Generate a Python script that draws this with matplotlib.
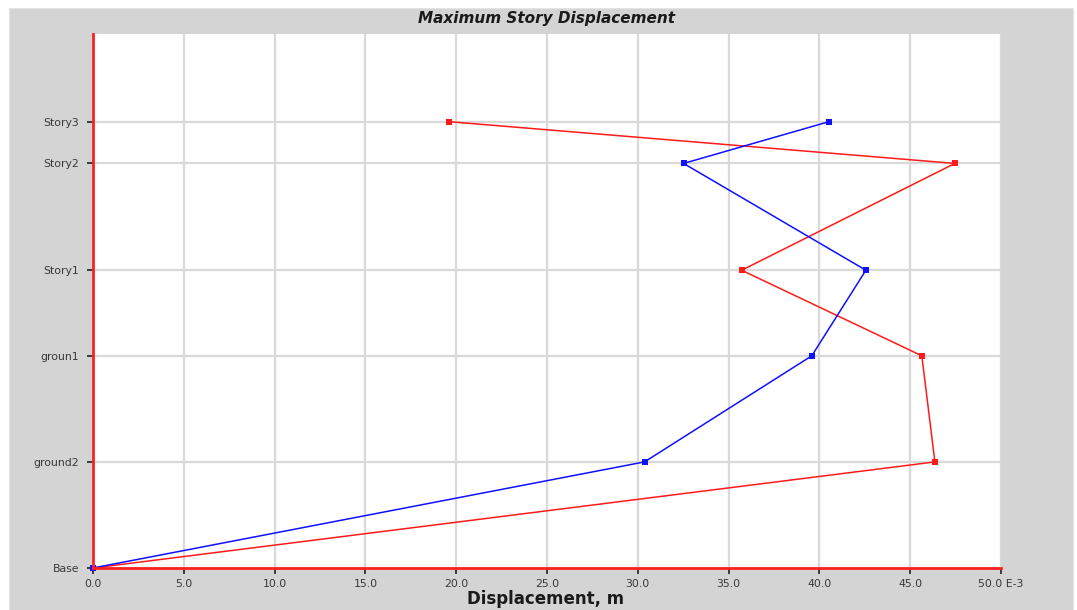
import matplotlib
matplotlib.use("Agg")
import matplotlib.pyplot as plt
from matplotlib.patches import Rectangle

plt.rcParams['font.family'] = ['DejaVu Sans']

# Story levels (elevation, m) and their names
stories = ["Base", "ground2", "groun1", "Story1", "Story2", "Story3"]
elevations = [0.0, 3.0, 6.0, 8.42, 11.44, 12.62]

# Maximum displacements (E-3 m)
disp_red = [0.0, 46.36, 45.64, 35.72, 47.46, 19.62]
disp_blue = [0.0, 30.37, 39.58, 42.56, 32.52, 40.52]

x_ticks = [0, 5, 10, 15, 20, 25, 30, 35, 40, 45, 50]
x_tick_labels = ["0.0", "5.0", "10.0", "15.0", "20.0", "25.0", "30.0",
                 "35.0", "40.0", "45.0", "50.0 E-3"]

W, H = 1077, 610
fig = plt.figure(figsize=(W / 100, H / 100), dpi=100)
fig.patch.set_facecolor("white")

# grey panel behind the chart
panel = Rectangle((9 / W, 0), (1073 - 9) / W, (H - 8) / H,
                  transform=fig.transFigure, facecolor="#d4d4d4",
                  edgecolor="#e4e4e4", linewidth=0.8, zorder=-10)
fig.patches.append(panel)

ax = fig.add_axes([93 / W, (H - 568) / H, (1001 - 93) / W, (568 - 34) / H])
ax.set_facecolor("white")

ax.set_xlim(0, 50)
ax.set_ylim(0, 15.1)

ax.set_xticks(x_ticks)
ax.set_xticklabels(x_tick_labels)
ax.set_yticks(elevations)
ax.set_yticklabels(stories)

ax.grid(True, color="#d9d9d9", linewidth=1.6)
ax.set_axisbelow(True)

for side in ("top", "right"):
    ax.spines[side].set_visible(False)
for side in ("left", "bottom"):
    ax.spines[side].set_color("#ff2020")
    ax.spines[side].set_linewidth(2.0)
    ax.spines[side].set_zorder(5)

ax.tick_params(axis="both", direction="out", length=4, width=1.2,
               color="#202020", labelsize=7.8, labelcolor="#383838")
ax.tick_params(axis="x", pad=4)
ax.tick_params(axis="y", pad=6)

ax.plot(disp_red, elevations, color="#ff1a1a", linewidth=1.1,
        marker="s", markersize=5, markeredgewidth=0, zorder=3,
        clip_on=False)
ax.plot(disp_blue, elevations, color="#1010ff", linewidth=1.1,
        marker="s", markersize=5, markeredgewidth=0, zorder=3,
        clip_on=False)

fig.text(0.507, (H - 599) / H, "Displacement, m", ha="center", va="center",
         fontsize=12, fontweight="bold", color="#1a1a1a")

fig.text(0.507, (H - 18) / H, "Maximum Story Displacement", ha="center",
         va="center", fontsize=11, fontweight="bold", style="italic",
         color="#1a1a1a")

fig.savefig("out.png", dpi=100)
